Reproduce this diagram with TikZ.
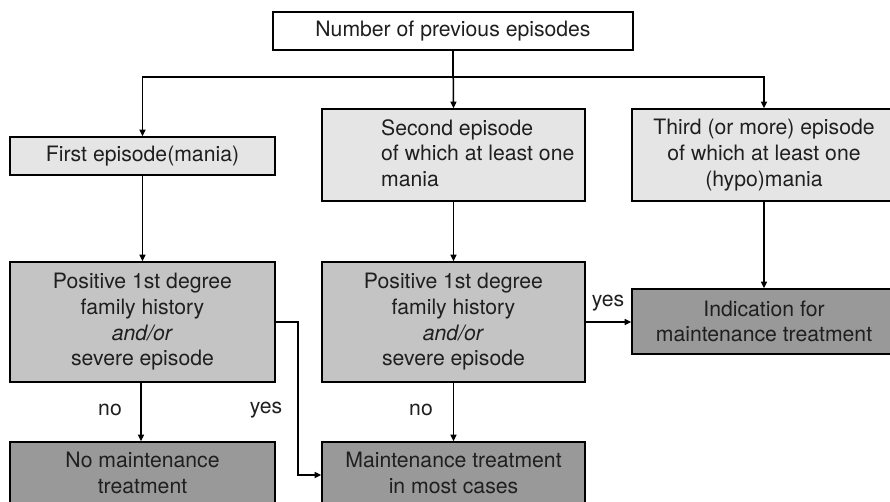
\documentclass[tikz,border=0pt]{standalone}
\usepackage{fontspec}
\setmainfont{TeX Gyre Heros}
\usetikzlibrary{arrows.meta}
\definecolor{lite}{gray}{0.90}
\definecolor{mid}{gray}{0.77}
\definecolor{deep}{gray}{0.60}
\definecolor{ink}{gray}{0.12}
\begin{document}
\begin{tikzpicture}[x=1pt,y=-1pt,
  txt/.style={font=\fontsize{21.2}{25.7}\selectfont, text=ink},
  box/.style={txt, draw=black, line width=1.7pt, rectangle, inner sep=0pt, align=center},
  conn/.style={line width=1.5pt, draw=black},
  arr/.style={conn, -{Triangle[length=6.5pt,width=6pt]}},
  lbl/.style={txt, inner sep=0pt}]
\useasboundingbox (0,0) rectangle (890,502);
\clip (0,0) rectangle (890,502);

% boxes
\node[box, fill=white, minimum width=360pt, minimum height=38pt] (top) at (453,31) {Number of previous episodes};
\node[box, fill=lite, minimum width=265pt, minimum height=38pt] (b1) at (142.5,156) {First episode(mania)};
\node[box, fill=lite, minimum width=263pt, minimum height=92pt] (b2) at (453.5,155) {};
\node[lbl, align=left, anchor=west] (b2txt) at (381,153) {Second episode\\of which at least one\\mania};
\node[box, fill=lite, minimum width=264pt, minimum height=92pt] (b3) at (764,155) {Third (or more) episode\\of which at least one\\(hypo)mania};
\node[box, fill=mid, minimum width=265pt, minimum height=120pt] (b4) at (142.5,322) {Positive 1st degree\\family history\\\textit{and/or}\\severe episode};
\node[box, fill=mid, minimum width=263pt, minimum height=120pt] (b5) at (453.5,322) {Positive 1st degree\\family history\\\textit{and/or}\\severe episode};
\node[box, fill=deep, minimum width=264pt, minimum height=65pt] (b6) at (764,321.5) {Indication for\\maintenance treatment};
\node[box, fill=deep, minimum width=265pt, minimum height=62pt] (b7) at (142.5,473) {No maintenance\\treatment};
\node[box, fill=deep, minimum width=263pt, minimum height=62pt] (b8) at (453.5,473) {Maintenance treatment\\in most cases};

% connectors
\coordinate (bus) at (453,77);
\draw[conn] (top.south) -- (bus);
\draw[arr] (bus) -| (b1.north);
\draw[arr] (bus) -| (b3.north);
\draw[arr] (top.south) -- (b2.north);
\draw[arr] (b1.south) -- (b4.north);
\draw[arr] (b2.south) -- (b5.north);
\draw[arr] (b3.south) -- (b6.north);
\draw[arr] (b4.south -| 141,0) -- (b7.north -| 141,0);
\draw[arr] (b5.south) -- (b8.north);
\draw[arr] (b5.east) -- (b5.east -| b6.west);
\coordinate (bend) at (298,322);
\draw[arr] (b4.east) -- (bend) |- ([yshift=-2pt]b8.west);

% branch labels
\node[lbl] (no1) at (110,410) {no};
\node[lbl] (yes1) at (266,410) {yes};
\node[lbl] (no2) at (421,410) {no};
\node[lbl] (yes2) at (608,303) {yes};
\end{tikzpicture}
\end{document}
